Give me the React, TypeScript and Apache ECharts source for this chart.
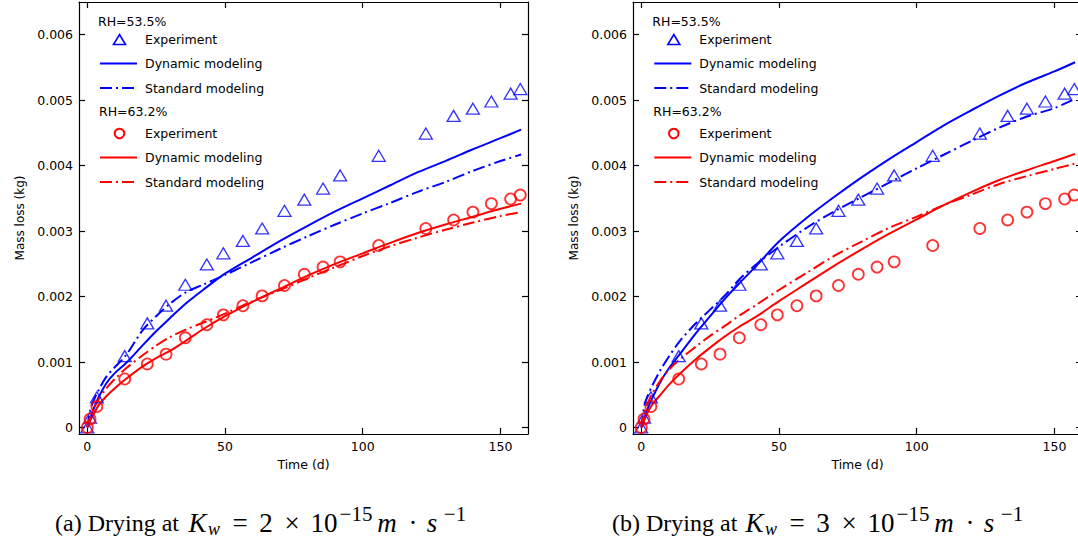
import React, { useEffect, useRef } from "react";
import * as echarts from "echarts";

// ---------- data (mass loss in 10^-3 kg, time in days) ----------
const tExp = [0, 1, 3.5, 13.6, 21.8, 28.6, 35.6, 43.4, 49.4, 56.5, 63.5, 71.6, 78.8, 85.6, 91.8, 105.8, 122.9, 133, 140, 146.7, 153.7, 157.2];
const expRH535 = [0, 0.15, 0.46, 1.09, 1.59, 1.86, 2.18, 2.49, 2.66, 2.85, 3.04, 3.31, 3.48, 3.65, 3.85, 4.15, 4.49, 4.76, 4.87, 4.98, 5.1, 5.17];
const expRH632 = [0, 0.13, 0.32, 0.74, 0.97, 1.12, 1.37, 1.57, 1.72, 1.86, 2.01, 2.17, 2.34, 2.45, 2.53, 2.78, 3.04, 3.17, 3.29, 3.42, 3.49, 3.55];

const tModel = [0, 1, 2, 4, 7, 10, 14, 20, 25, 30, 36, 42, 50, 60, 70, 80, 90, 100, 110, 120, 130, 140, 150, 157.5];
// (a) Kw = 2e-15
const aDyn535 = [0, 0.12, 0.25, 0.45, 0.68, 0.83, 0.98, 1.25, 1.47, 1.67, 1.9, 2.1, 2.35, 2.6, 2.85, 3.08, 3.3, 3.5, 3.7, 3.9, 4.07, 4.25, 4.42, 4.55];
const aStd535 = [0, 0.25, 0.38, 0.56, 0.78, 0.92, 1.1, 1.48, 1.7, 1.89, 2.07, 2.18, 2.33, 2.53, 2.73, 2.92, 3.1, 3.27, 3.43, 3.6, 3.75, 3.92, 4.07, 4.17];
const aDyn632 = [0, 0.1, 0.18, 0.33, 0.48, 0.6, 0.74, 0.93, 1.06, 1.17, 1.33, 1.5, 1.7, 1.92, 2.12, 2.32, 2.5, 2.66, 2.82, 2.97, 3.1, 3.22, 3.34, 3.42];
const aStd632 = [0, 0.15, 0.25, 0.42, 0.6, 0.74, 0.9, 1.1, 1.25, 1.38, 1.5, 1.6, 1.74, 1.93, 2.1, 2.28, 2.45, 2.62, 2.77, 2.9, 3.02, 3.13, 3.23, 3.29];
// (b) Kw = 3e-15
const bDyn535 = [0, 0.12, 0.25, 0.45, 0.7, 0.9, 1.12, 1.45, 1.7, 1.95, 2.22, 2.48, 2.84, 3.2, 3.52, 3.82, 4.1, 4.36, 4.62, 4.85, 5.07, 5.27, 5.44, 5.58];
const bStd535 = [0, 0.3, 0.45, 0.64, 0.88, 1.08, 1.32, 1.6, 1.8, 2.0, 2.28, 2.5, 2.76, 3.05, 3.3, 3.52, 3.74, 3.96, 4.17, 4.38, 4.58, 4.75, 4.88, 5.02];
const bDyn632 = [0, 0.1, 0.2, 0.35, 0.5, 0.65, 0.82, 1.05, 1.22, 1.38, 1.55, 1.7, 1.93, 2.2, 2.47, 2.72, 2.96, 3.18, 3.4, 3.6, 3.78, 3.93, 4.07, 4.18];
const bStd632 = [0, 0.2, 0.33, 0.52, 0.72, 0.88, 1.04, 1.24, 1.4, 1.54, 1.72, 1.88, 2.1, 2.36, 2.62, 2.84, 3.05, 3.22, 3.4, 3.56, 3.72, 3.84, 3.95, 4.03];

const xTicks = [0, 50, 100, 150];
const yTicks = [0, 0.001, 0.002, 0.003, 0.004, 0.005, 0.006];

const BLUE = "#0000ff";
const RED = "#ff0000";
const FONT = "DejaVu Sans";
const SERIF = "Liberation Serif";
const DASHDOT = [12, 4, 2, 4];

const pairs = (t: number[], v: number[]) => t.map((x, i) => [x, v[i] / 1000]);

export default function App() {
  const ref = useRef<HTMLDivElement>(null);
  useEffect(() => {
    if (!ref.current) return;
    const chart = echarts.init(ref.current, undefined, { renderer: "svg" });
    const grids = [
      { left: 79, top: 2, width: 449, height: 432 },
      { left: 633, top: 2, width: 449, height: 432 },
    ];
    const axisLine = { show: true, onZero: false, lineStyle: { color: "#000", width: 1.2 } };
    const tick = (vals: number[]) => ({ show: true, inside: true, length: 6, customValues: vals, lineStyle: { color: "#000", width: 1.2 } });
    const xAxes: any[] = [];
    const yAxes: any[] = [];
    grids.forEach((_, g) => {
      xAxes.push({
        type: "value", gridIndex: g, position: "bottom", min: -3, max: 160,
        axisLine, axisTick: tick(xTicks), splitLine: { show: false },
        axisLabel: { customValues: xTicks, color: "#000", fontFamily: FONT, fontSize: 12.5, margin: 6 },
        name: "Time (d)", nameLocation: "middle", nameGap: 18,
        nameTextStyle: { color: "#000", fontFamily: FONT, fontSize: 12.5 },
      });
      xAxes.push({
        type: "value", gridIndex: g, position: "top", min: -3, max: 160,
        axisLine, axisTick: tick(xTicks), splitLine: { show: false }, axisLabel: { show: false },
      });
      yAxes.push({
        type: "value", gridIndex: g, position: "left", min: -0.0001, max: 0.0065,
        axisLine, axisTick: tick(yTicks), splitLine: { show: false },
        axisLabel: { customValues: yTicks, color: "#000", fontFamily: FONT, fontSize: 12.5, margin: 6 },
        name: "Mass loss (kg)", nameLocation: "middle", nameGap: 53, nameRotate: 90,
        nameTextStyle: { color: "#000", fontFamily: FONT, fontSize: 12 },
      });
      yAxes.push({
        type: "value", gridIndex: g, position: "right", min: -0.0001, max: 0.0065,
        axisLine, axisTick: tick(yTicks), splitLine: { show: false }, axisLabel: { show: false },
      });
    });

    const lineSeries = (g: number, v: number[], color: string, dashed: boolean) => ({
      type: "line", xAxisIndex: g * 2, yAxisIndex: g * 2, data: pairs(tModel, v),
      showSymbol: false, smooth: 0.3,
      lineStyle: { color, width: 2, type: dashed ? DASHDOT : "solid", cap: "butt" },
      z: 3,
    });
    const scatter = (g: number, v: number[], color: string, tri: boolean) => ({
      type: "scatter", xAxisIndex: g * 2, yAxisIndex: g * 2, data: pairs(tExp, v),
      symbol: tri ? "triangle" : "circle", symbolSize: tri ? [13, 11] : 11,
      itemStyle: { color: "transparent", borderColor: color, borderWidth: tri ? 1.3 : 1.8 },
      z: 4,
    });

    const series: any[] = [
      scatter(0, expRH535, BLUE, true),
      scatter(0, expRH632, RED, false),
      lineSeries(0, aDyn535, BLUE, false),
      lineSeries(0, aStd535, BLUE, true),
      lineSeries(0, aDyn632, RED, false),
      lineSeries(0, aStd632, RED, true),
      scatter(1, expRH535, BLUE, true),
      scatter(1, expRH632, RED, false),
      lineSeries(1, bDyn535, BLUE, false),
      lineSeries(1, bStd535, BLUE, true),
      lineSeries(1, bDyn632, RED, false),
      lineSeries(1, bStd632, RED, true),
    ];

    const legend = (ox: number) => {
      const txt = (x: number, y: number, s: string) => ({
        type: "text", x: ox + x, y,
        style: { text: s, fill: "#000", font: `12.5px "${FONT}"`, textVerticalAlign: "middle", textAlign: "left" },
      });
      const ln = (y: number, color: string, dashed: boolean) => ({
        type: "line", shape: { x1: ox + 21, y1: y, x2: ox + 58, y2: y },
        style: { stroke: color, lineWidth: 2, lineDash: dashed ? DASHDOT : null },
      });
      return [
        txt(19, 21.5, "RH=53.5%"),
        { type: "polygon", shape: { points: [[ox + 40.5, 34.5], [ox + 46.5, 44.5], [ox + 34.5, 44.5]] }, style: { fill: "none", stroke: BLUE, lineWidth: 1.6 } },
        txt(66, 39.5, "Experiment"),
        ln(63.5, BLUE, false),
        txt(66, 63.5, "Dynamic modeling"),
        ln(88, BLUE, true),
        txt(66, 88, "Standard modeling"),
        txt(20, 111, "RH=63.2%"),
        { type: "circle", shape: { cx: ox + 40.5, cy: 133.5, r: 4.8 }, style: { fill: "none", stroke: RED, lineWidth: 2 } },
        txt(66, 133.5, "Experiment"),
        ln(157.5, RED, false),
        txt(66, 157.5, "Dynamic modeling"),
        ln(182, RED, true),
        txt(66, 182, "Standard modeling"),
      ];
    };

    const caption = (x0: number, letter: string, num: string) => {
      const tk = (dx: number, dy: number, s: string, size: number, italic: boolean, align = "center") => ({
        type: "text", x: x0 + dx, y: 523 + dy,
        style: {
          text: s, fill: "#000",
          font: `${italic ? "italic " : ""}${size}px "${SERIF}"`,
          textAlign: align, textVerticalAlign: "middle",
        },
      });
      return [
        tk(0, 0, `(${letter}) Drying at`, 24, false, "left"),
        tk(142.6, 0, "K", 27, true),
        tk(159, 6, "w", 18, true),
        tk(185, 0, "=", 27, false),
        tk(211, 0, num, 27, false),
        tk(237, 0, "×", 27, false),
        tk(269, 0, "10", 27, false),
        tk(301, -9, "−15", 21, false),
        tk(332, 0, "m", 27, true),
        tk(358, 0, "·", 27, false),
        tk(377, 0, "s", 27, true),
        tk(400, -9, "−1", 21, false),
      ];
    };

    chart.setOption({
      animation: false,
      backgroundColor: "#fff",
      grid: grids,
      xAxis: xAxes,
      yAxis: yAxes,
      series,
      graphic: [...legend(79), ...legend(633.3), ...caption(55, "a", "2"), ...caption(612, "b", "3")],
    });
    return () => chart.dispose();
  }, []);
  return (
    <div style={{ position: "fixed", left: 0, top: 0, width: 1078, height: 543, overflow: "hidden", background: "#fff" }}>
      <div ref={ref} style={{ width: 1100, height: 543 }} />
    </div>
  );
}
